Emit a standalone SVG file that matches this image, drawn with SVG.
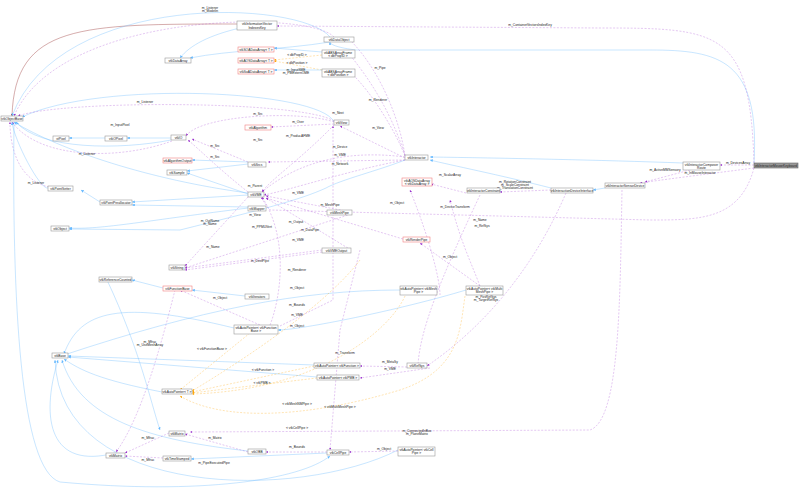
<svg xmlns="http://www.w3.org/2000/svg" width="799" height="495" viewBox="0 0 799 495">
<style>
.n rect{fill:#fff;stroke:#999;stroke-width:0.6}
.r rect{fill:#fff;stroke:#f08080;stroke-width:0.6}
.g rect{fill:#999;stroke:#666;stroke-width:0.6}
text{font-family:"Liberation Sans",Arial,sans-serif;font-size:3.3px;fill:#222;text-anchor:middle}
.b{fill:none;stroke:#63b8ff;stroke-opacity:0.5;stroke-width:0.7;marker-end:url(#ab)}
.p{fill:none;stroke:#9a32cd;stroke-opacity:0.45;stroke-width:0.6;stroke-dasharray:2,1.5;marker-end:url(#ap)}
.o{fill:none;stroke:#ffa500;stroke-opacity:0.5;stroke-width:0.6;stroke-dasharray:2,1.5;marker-end:url(#ao)}
.rd{fill:none;stroke:#8b1a1a;stroke-opacity:0.6;stroke-width:0.6;marker-end:url(#ar)}
.l{font-size:3px;fill:#333}
</style>
<defs>
<marker id="ab" markerWidth="4" markerHeight="4" refX="4" refY="2" orient="auto"><path d="M0,0L4,2L0,4z" fill="#63b8ff"/></marker>
<marker id="ap" markerWidth="4" markerHeight="4" refX="4" refY="2" orient="auto"><path d="M0,0L4,2L0,4z" fill="#9a32cd"/></marker>
<marker id="ao" markerWidth="4" markerHeight="4" refX="4" refY="2" orient="auto"><path d="M0,0L4,2L0,4z" fill="#ffa500"/></marker>
<marker id="ar" markerWidth="4" markerHeight="4" refX="4" refY="2" orient="auto"><path d="M0,0L4,2L0,4z" fill="#8b1a1a"/></marker>
</defs>
<rect width="799" height="495" fill="#fff"/>
<g id="edges">
<path class="rd" d="M237,24 C80,24 15,24 12,116"/>
<path class="b" d="M330,37 C300,0 60,-10 12,116"/>
<path class="p" d="M334,37 C310,10 60,10 14,116"/>
<path class="b" d="M240,28 C210,35 190,45 180,58"/>
<path class="b" d="M330,42 C280,50 230,50 190,58"/>
<path class="b" d="M322,52 L274,48"/>
<path class="o" d="M322,55 L274,60"/>
<path class="o" d="M322,70 L274,61"/>
<path class="b" d="M322,70 L274,70"/>
<path class="b" d="M334,122 C320,90 100,80 22,117"/>
<path class="p" d="M334,121 C300,100 60,100 18,116"/>
<path class="p" d="M334,124 L271,127"/>
<path class="p" d="M334,122 C300,110 200,115 186,136"/>
<path class="b" d="M171,138 L127,138"/>
<path class="b" d="M105,138 L69,138"/>
<path class="b" d="M171,140 C120,150 40,150 16,122"/>
<path class="p" d="M172,141 C120,160 40,160 12,122"/>
<path class="p" d="M248,162 L192,139"/>
<path class="b" d="M248,162 L192,160"/>
<path class="b" d="M248,164 L187,171"/>
<path class="p" d="M248,192 C220,170 200,150 188,140"/>
<path class="b" d="M248,193 C150,180 60,150 14,122"/>
<path class="b" d="M248,194 L187,173"/>
<path class="b" d="M248,195 L132,202"/>
<path class="b" d="M56,188 L48,188 C40,190 14,140 12,122"/>
<path class="p" d="M56,188 C20,185 10,150 10,122"/>
<path class="b" d="M100,202 L81,190"/>
<path class="p" d="M334,125 C300,160 270,180 262,192"/>
<path class="b" d="M248,207 L132,205"/>
<path class="b" d="M248,208 C150,220 100,230 69,228"/>
<path class="p" d="M248,197 L185,266"/>
<path class="p" d="M322,250 L185,268"/>
<path class="p" d="M322,252 L185,270"/>
<path class="b" d="M163,288 L132,280"/>
<path class="b" d="M245,296 L192,290"/>
<path class="p" d="M260,325 L180,290"/>
<path class="b" d="M234,328 C120,300 80,310 64,354"/>
<path class="b" d="M314,365 L68,356"/>
<path class="b" d="M317,377 L68,357"/>
<path class="b" d="M162,392 C100,380 80,370 64,359"/>
<path class="o" d="M314,366 L192,392"/>
<path class="o" d="M317,378 L192,393"/>
<path class="o" d="M250,333 L180,390"/>
<path class="b" d="M248,451 C150,440 80,420 62,360"/>
<path class="p" d="M248,452 L185,434"/>
<path class="p" d="M327,452 L266,452"/>
<path class="b" d="M327,453 L191,459"/>
<path class="p" d="M169,433 L125,453"/>
<path class="p" d="M163,458 L125,456"/>
<path class="p" d="M175,290 C160,350 140,420 116,452"/>
<path class="b" d="M115,453 C50,470 40,420 58,360"/>
<path class="b" d="M107,280 C140,350 150,400 160,430"/>
<path class="b" d="M14,122 C12,300 20,470 60,482 C200,495 300,480 330,456"/>
<path class="b" d="M398,450 C300,500 60,500 55,360"/>
<path class="p" d="M398,451 L349,452"/>
<path class="p" d="M270,325 C280,300 290,240 262,197"/>
<path class="p" d="M280,326 L333,300 L333,126"/>
<path class="p" d="M440,295 C440,280 430,240 410,190"/>
<path class="p" d="M480,286 L420,243"/>
<path class="p" d="M480,286 C470,260 460,240 450,200"/>
<path class="p" d="M466,193 L431,184"/>
<path class="p" d="M551,190 L500,192"/>
<path class="b" d="M551,188 C500,175 450,165 430,160"/>
<path class="b" d="M683,163 C600,160 500,158 430,157"/>
<path class="b" d="M605,188 L593,190"/>
<path class="p" d="M754,165 L720,165"/>
<path class="p" d="M754,168 C700,175 660,180 640,183"/>
<path class="p" d="M690,170 L645,182"/>
<path class="b" d="M754,163 C760,60 720,50 650,50 L356,50 C340,48 330,45 330,42"/>
<path class="p" d="M754,163 C750,30 720,28 600,28 L277,26"/>
<path class="p" d="M754,168 C740,220 700,220 650,220 L270,210 C266,205 262,200 262,197"/>
<path class="p" d="M622,190 C620,300 620,420 590,430 L190,432"/>
<path class="p" d="M566,193 C520,300 450,350 427,366"/>
<path class="p" d="M480,195 C440,280 420,330 418,365"/>
<path class="p" d="M405,157 C350,150 300,160 262,192"/>
<path class="p" d="M405,160 C350,170 290,190 264,195"/>
<path class="p" d="M405,158 L340,126"/>
<path class="p" d="M405,156 C395,130 370,90 350,72"/>
<path class="p" d="M405,155 C390,110 370,80 350,55"/>
<path class="p" d="M405,156 C400,120 380,70 350,40"/>
<path class="p" d="M405,160 L268,162"/>
<path class="b" d="M405,160 C380,170 340,180 326,188 C300,200 260,210 180,230 L69,229"/>
<path class="p" d="M403,239 L266,198"/>
<path class="p" d="M351,212 L266,196"/>
<path class="p" d="M351,214 L185,268"/>
<path class="p" d="M351,250 L266,198"/>
<path class="p" d="M360,250 L340,330 L330,450"/>
<path class="p" d="M407,367 L360,366"/>
<path class="p" d="M430,368 L360,378"/>
<path class="b" d="M400,290 C300,290 200,310 64,355"/>
<path class="b" d="M466,290 C400,310 300,330 278,330"/>
<path class="o" d="M405,296 C390,330 320,390 192,394"/>
<path class="o" d="M465,296 C460,330 460,370 400,390 C300,420 220,420 180,396"/>
<path class="o" d="M360,260 C330,300 260,350 192,391"/>
</g>
<g class="l">
<text x="210" y="9">m_Listener</text><text x="210" y="12">m_Modelin</text>
<text x="530" y="26">m_ContainerVectorsIndexKey</text>
<text x="297" y="56">&lt; dbPropID &gt;</text><text x="297" y="64">&lt; dbPosition &gt;</text>
<text x="296" y="71">m_InputSME</text><text x="296" y="74">m_PMExternOME</text>
<text x="380" y="69">m_Pipe</text><text x="378" y="101">m_Renderer</text><text x="378" y="129">m_View</text>
<text x="145" y="103">m_Listener</text><text x="258" y="115">m_Src</text><text x="298" y="123">m_Over</text>
<text x="338" y="114">m_Next</text><text x="298" y="137">m_ProducAFME</text><text x="258" y="141">m_Src</text>
<text x="120" y="126">m_InputPixel</text><text x="87" y="155">m_Listener</text><text x="215" y="147">m_Src</text><text x="215" y="158">m_Src</text>
<text x="340" y="148">m_Device</text><text x="340" y="156">m_VME</text><text x="340" y="165">m_Network</text>
<text x="36" y="184">m_Listener</text><text x="255" y="187">m_Parent</text><text x="298" y="194">m_VME</text>
<text x="210" y="222">m_OutName</text><text x="210" y="225">m_Name</text><text x="255" y="216">m_View</text><text x="262" y="228">m_PPMUVert</text>
<text x="296" y="223">m_Output</text><text x="298" y="241">m_VME</text><text x="330" y="206">m_MeshPipe</text><text x="310" y="231">m_DataPipe</text>
<text x="213" y="248">m_Name</text><text x="260" y="262">m_DestPipe</text><text x="297" y="271">m_Renderer</text>
<text x="297" y="289">m_Object</text><text x="220" y="299">m_Object</text><text x="297" y="306">m_Bounds</text><text x="297" y="316">m_VME</text><text x="297" y="327">m_Object</text>
<text x="212" y="350">&lt; vtkFunctionBase &gt;</text><text x="150" y="343">m_Mfrac</text><text x="150" y="346">m_UseMeshArray</text>
<text x="345" y="354">m_Transform</text><text x="390" y="363">m_MetaSy</text><text x="390" y="370">m_VME</text>
<text x="263" y="371">&lt; vtkFunction &gt;</text><text x="262" y="384">&lt; vtkPMB &gt;</text>
<text x="297" y="405">&lt; vtkMeshNMPipe &gt;</text><text x="340" y="408">&lt; vtkMultiMeshPipe &gt;</text><text x="297" y="429">&lt; vtkCellPipe &gt;</text>
<text x="148" y="439">m_Mfrac</text><text x="215" y="439">m_Matrix</text><text x="297" y="448">m_Bounds</text><text x="384" y="450">m_Object</text>
<text x="148" y="461">m_Mfrac</text><text x="214" y="464">m_PipeExecutedPipe</text>
<text x="417" y="432">m_ConnectedInBox</text><text x="417" y="435">m_PlaneMatrix</text>
<text x="397" y="204">m_Object</text><text x="450" y="176">m_ScalarArray</text><text x="455" y="208">m_DeviceTransform</text>
<text x="482" y="227">m_RefSys</text><text x="480" y="221">m_Name</text><text x="450" y="258">m_Object</text>
<text x="486" y="298">m_PosRefSys</text><text x="486" y="301">m_TargetRefSys</text>
<text x="515" y="183">m_RotationConstraint</text><text x="515" y="186">m_ScaleConstraint</text><text x="515" y="189">m_TranslationConstraint</text>
<text x="738" y="164">m_DevicesArray</text><text x="665" y="171">m_ActiveMMSensory</text><text x="700" y="174">m_InMouseInteractor</text>
</g>
<g class="n" id="objbase"><rect x="1" y="116" width="22" height="5"/><text x="12" y="119.5">vtkObjectBase</text></g>
<g class="n" id="infokey"><rect x="237" y="21" width="40" height="9"/><text x="257" y="25">vtkInformationVector</text><text x="257" y="28.5">IndexesKey</text></g>
<g class="n" id="dataobj"><rect x="324" y="37" width="30" height="5"/><text x="339" y="40.5">vtkDataObject</text></g>
<g class="n" id="dataarr"><rect x="165" y="58" width="26" height="5"/><text x="178" y="61.5">vtkDataArray</text></g>
<g class="r" id="soa1"><rect x="238" y="47" width="36" height="5"/><text x="256" y="50.5">vtkSOADataArray&lt; T &gt;</text></g>
<g class="r" id="aos"><rect x="238" y="58" width="36" height="5"/><text x="256" y="61.5">vtkAOSDataArray&lt; T &gt;</text></g>
<g class="r" id="soa2"><rect x="238" y="69" width="36" height="5"/><text x="256" y="72.5">vtkSoADataArray&lt; T &gt;</text></g>
<g class="n" id="frame1"><rect x="322" y="50" width="33" height="8"/><text x="338" y="53.5">vtkABSArrayFrame</text><text x="338" y="57">&lt; dbPropID &gt;</text></g>
<g class="n" id="frame2"><rect x="322" y="69" width="33" height="8"/><text x="338" y="72.5">vtkABSArrayFrame</text><text x="338" y="76">&lt; dbPosition &gt;</text></g>
<g class="n" id="view"><rect x="334" y="120" width="15" height="5"/><text x="341.5" y="123.5">vtkView</text></g>
<g class="r" id="algo"><rect x="245" y="125" width="26" height="5"/><text x="258" y="128.5">vtkAlgorithm</text></g>
<g class="n" id="pixel"><rect x="53" y="136" width="16" height="5"/><text x="61" y="139.5">vtPixel</text></g>
<g class="n" id="opixel"><rect x="105" y="136" width="22" height="5"/><text x="116" y="139.5">vtkOPixel</text></g>
<g class="n" id="io"><rect x="171" y="135" width="15" height="5"/><text x="178.5" y="138.5">vtkIO</text></g>
<g class="r" id="algout"><rect x="163" y="158" width="29" height="5"/><text x="177.5" y="161.5">vtkAlgorithmOutput</text></g>
<g class="n" id="src"><rect x="248" y="162" width="18" height="5"/><text x="257" y="165.5">vtkSrcs</text></g>
<g class="n" id="sample"><rect x="167" y="170" width="20" height="5"/><text x="177" y="173.5">vtkSample</text></g>
<g class="n" id="pset"><rect x="48" y="186" width="25" height="5"/><text x="60.5" y="189.5">vtkPointSetter</text></g>
<g class="n" id="ppre"><rect x="100" y="200" width="32" height="5"/><text x="116" y="203.5">vtkPointPreallocator</text></g>
<g class="n" id="vme"><rect x="248" y="192" width="16" height="5"/><text x="256" y="195.5">vtkVME</text></g>
<g class="n" id="mapper"><rect x="248" y="206" width="18" height="5"/><text x="257" y="209.5">vtkMapper</text></g>
<g class="n" id="obj"><rect x="51" y="226" width="18" height="5"/><text x="60" y="229.5">vtkObject</text></g>
<g class="n" id="meshpipe"><rect x="327" y="210" width="25" height="5"/><text x="339.5" y="213.5">vtkMeshPipe</text></g>
<g class="n" id="mpsrc"><rect x="322" y="248" width="29" height="5"/><text x="336.5" y="251.5">vtkVMEOutput</text></g>
<g class="n" id="string"><rect x="169" y="265" width="16" height="5"/><text x="177" y="268.5">vtkString</text></g>
<g class="n" id="refc"><rect x="99" y="277" width="33" height="5"/><text x="115.5" y="280.5">vtkReferenceCounted</text></g>
<g class="r" id="funcb"><rect x="163" y="286" width="29" height="5"/><text x="177.5" y="289.5">vtkFunctionBase</text></g>
<g class="n" id="iter"><rect x="245" y="294" width="24" height="5"/><text x="257" y="297.5">vtkIterators</text></g>
<g class="n" id="autof"><rect x="234" y="325" width="44" height="9"/><text x="256" y="328.5">vtkAutoPointer&lt; vtkFunction</text><text x="256" y="332">Base &gt;</text></g>
<g class="n" id="alloc"><rect x="52" y="353" width="16" height="5"/><text x="60" y="356.5">vtkBase</text></g>
<g class="n" id="autofi"><rect x="314" y="363" width="46" height="5"/><text x="337" y="366.5">vtkAutoPointer&lt; vtkFunction &gt;</text></g>
<g class="n" id="autopmb"><rect x="317" y="375" width="42" height="5"/><text x="338" y="378.5">vtkAutoPointer&lt; vtkPMB &gt;</text></g>
<g class="n" id="autot"><rect x="162" y="389" width="30" height="5"/><text x="177" y="392.5">vtkAutoPointer&lt; T &gt;</text></g>
<g class="n" id="matrix"><rect x="169" y="431" width="16" height="5"/><text x="177" y="434.5">vtkMatrix</text></g>
<g class="n" id="allocs"><rect x="106" y="453" width="19" height="5"/><text x="115.5" y="456.5">vtkMatrix</text></g>
<g class="n" id="tstamp"><rect x="163" y="456" width="28" height="5"/><text x="177" y="459.5">vtkTimeStamped</text></g>
<g class="n" id="obb"><rect x="248" y="449" width="18" height="5"/><text x="257" y="452.5">vtkOBB</text></g>
<g class="n" id="cellpipe"><rect x="327" y="450" width="22" height="5"/><text x="338" y="453.5">vtkCellPipe</text></g>
<g class="n" id="autocp"><rect x="398" y="447" width="37" height="9"/><text x="416.5" y="450.5">vtkAutoPointer&lt; vtkCell</text><text x="416.5" y="454">Pipe &gt;</text></g>
<g class="n" id="interactor"><rect x="405" y="155" width="23" height="5"/><text x="416.5" y="158.5">vtkInteractor</text></g>
<g class="r" id="aosd"><rect x="402" y="178" width="30" height="8"/><text x="417" y="181.5">vtkAOSDataArray</text><text x="417" y="185">&lt; vtkDataArray &gt;</text></g>
<g class="n" id="iconst"><rect x="467" y="188" width="33" height="5"/><text x="483.5" y="191.5">vtkInteractorConstraint</text></g>
<g class="n" id="idev"><rect x="551" y="188" width="42" height="5"/><text x="572" y="191.5">vtkInteractionDeviceInterface</text></g>
<g class="n" id="isens"><rect x="605" y="183" width="40" height="5"/><text x="625" y="186.5">vtkInteractorSensorDevice</text></g>
<g class="n" id="icomp"><rect x="683" y="162" width="37" height="8"/><text x="701.5" y="165.5">vtkInteractorComposer</text><text x="701.5" y="169">Route</text></g>
<g class="g" id="main"><rect x="754" y="163" width="44" height="5"/><text x="776" y="166.5">vtkInteractorMouseKeyboard</text></g>
<g class="r" id="rpipe"><rect x="403" y="237" width="27" height="5"/><text x="416.5" y="240.5">vtkRenderPipe</text></g>
<g class="n" id="autorp"><rect x="400" y="286" width="37" height="9"/><text x="418.5" y="289.5">vtkAutoPointer&lt; vtkMesh</text><text x="418.5" y="293">Pipe &gt;</text></g>
<g class="n" id="autorm"><rect x="466" y="286" width="37" height="9"/><text x="484.5" y="289.5">vtkAutoPointer&lt; vtkMulti</text><text x="484.5" y="293">MeshPipe &gt;</text></g>
<g class="n" id="pmbox"><rect x="407" y="363" width="20" height="5"/><text x="417" y="366.5">vtkRefSys</text></g>
</svg>
